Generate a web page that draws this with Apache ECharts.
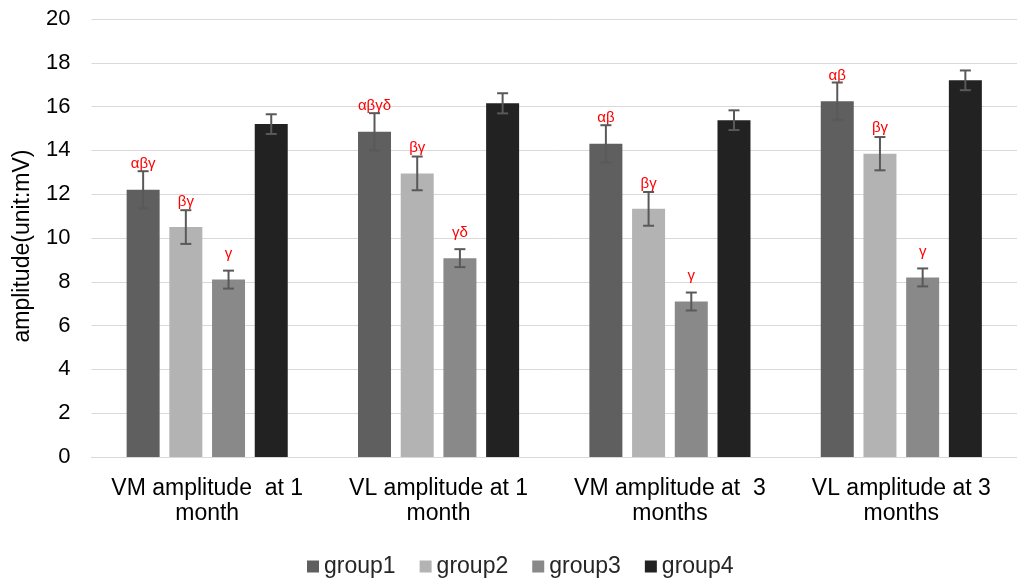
<!DOCTYPE html>
<html>
<head>
<meta charset="utf-8">
<script src="https://cdn.jsdelivr.net/npm/echarts@6/dist/echarts.min.js"></script>
<style>
html,body{margin:0;padding:0;background:#fff;}
#chart{width:1017px;height:579px;}
</style>
</head>
<body>
<div id="chart"></div>
<script>
const categories = ['VM amplitude  at 1\nmonth', 'VL amplitude at 1\nmonth', 'VM amplitude at  3\nmonths', 'VL amplitude at 3\nmonths'];
const seriesNames = ['group1', 'group2', 'group3', 'group4'];
const group1 = [12.2, 14.85, 14.3, 16.25];
const group2 = [10.5, 12.95, 11.33, 13.85];
const group3 = [8.1, 9.08, 7.1, 8.2];
const group4 = [15.2, 16.15, 15.38, 17.2];
const err1 = [0.85, 0.85, 0.85, 0.85];
const err2 = [0.77, 0.77, 0.77, 0.76];
const err3 = [0.41, 0.41, 0.41, 0.41];
const err4 = [0.45, 0.46, 0.45, 0.45];
const notes1 = ['αβγ', 'αβγδ', 'αβ', 'αβ'];
const notes2 = ['βγ', 'βγ', 'βγ', 'βγ'];
const notes3 = ['γ', 'γδ', 'γ', 'γ'];
const notes4 = ['', '', '', ''];
const yTicks = [0, 2, 4, 6, 8, 10, 12, 14, 16, 18, 20];

const values = [group1, group2, group3, group4];
const errs = [err1, err2, err3, err4];
const notes = [notes1, notes2, notes3, notes4];
const colors = ['#5f5f5f', '#b3b3b3', '#898989', '#222222'];
const BAR_W = 33;
const GAP_RATIO = 0.294;
const FONT = '"Liberation Sans", Arial, sans-serif';

const series = [];
values.forEach((vals, si) => {
  series.push({
    name: seriesNames[si],
    type: 'bar',
    data: vals,
    barWidth: BAR_W,
    barGap: (GAP_RATIO * 100) + '%',
    itemStyle: { color: colors[si] },
    label: {
      show: true,
      position: 'top',
      distance: 18,
      color: '#ff0000',
      fontSize: 15,
      fontFamily: FONT,
      formatter: p => notes[si][p.dataIndex]
    },
    emphasis: { disabled: true },
    z: 2
  });
});
values.forEach((vals, si) => {
  const step = BAR_W * (1 + GAP_RATIO);
  const offset = (si - 1.5) * step;
  series.push({
    type: 'custom',
    name: seriesNames[si] + '-err',
    data: vals.map((v, i) => [i, v, errs[si][i]]),
    z: 5,
    silent: true,
    renderItem: (params, api) => {
      const x = api.coord([api.value(0), 0])[0] + offset;
      const v = api.value(1), e = api.value(2);
      const yTop = api.coord([api.value(0), v + e])[1];
      const yBot = api.coord([api.value(0), v - e])[1];
      const cap = 5.5;
      const st = { stroke: '#595959', lineWidth: 2 };
      return {
        type: 'group',
        children: [
          { type: 'line', shape: { x1: x, y1: yTop, x2: x, y2: yBot }, style: st },
          { type: 'line', shape: { x1: x - cap, y1: yTop, x2: x + cap, y2: yTop }, style: st },
          { type: 'line', shape: { x1: x - cap, y1: yBot, x2: x + cap, y2: yBot }, style: st }
        ]
      };
    }
  });
});

const chart = echarts.init(document.getElementById('chart'), null, { renderer: 'canvas' });
chart.setOption({
  animation: false,
  backgroundColor: '#fff',
  textStyle: { fontFamily: FONT },
  grid: { left: 91.5, right: -11, top: 19, bottom: 122 },
  legend: {
    data: seriesNames,
    top: 550,
    left: 302,
    itemWidth: 12,
    itemHeight: 12,
    itemGap: 24,
    icon: 'rect',
    textStyle: { fontSize: 23, color: '#262626', fontFamily: FONT }
  },
  xAxis: {
    type: 'category',
    data: categories,
    axisLine: { lineStyle: { color: '#d9d9d9', width: 1 } },
    axisTick: { show: false },
    axisLabel: { interval: 0, fontSize: 23, color: '#000', lineHeight: 25, margin: 19, fontFamily: FONT }
  },
  yAxis: {
    type: 'value',
    min: 0, max: 20, interval: 2,
    name: 'amplitude(unit:mV)',
    nameLocation: 'middle',
    nameGap: 57,
    nameTextStyle: { fontSize: 23, color: '#000', fontFamily: FONT, padding: [0, 16, 0, 0] },
    axisLine: { show: false },
    axisTick: { show: false },
    axisLabel: { fontSize: 22, color: '#000', margin: 21, fontFamily: FONT,
      formatter: v => yTicks.includes(v) ? String(v) : '' },
    splitLine: { lineStyle: { color: '#d9d9d9', width: 1 } }
  },
  series: series
});
</script>
</body>
</html>
